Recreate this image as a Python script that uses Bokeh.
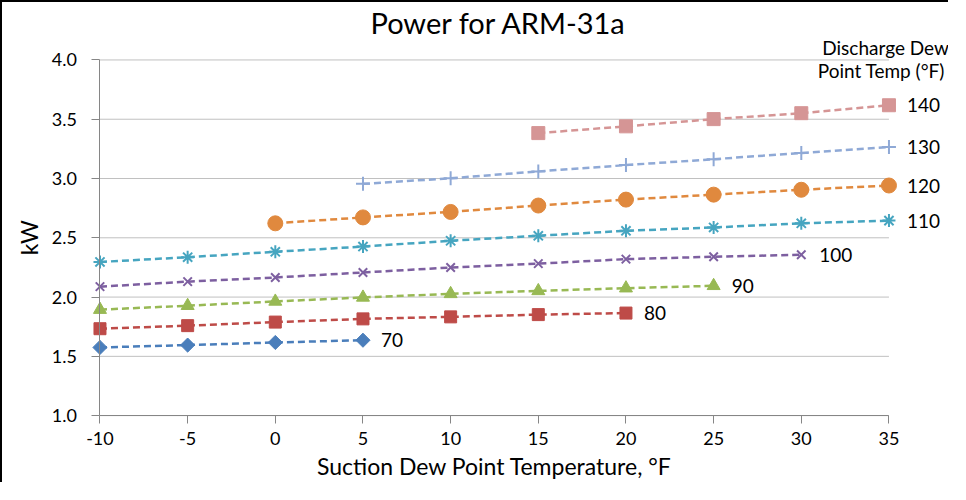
import math
from bokeh.plotting import figure
from bokeh.models import (Label, LabelSet, ColumnDataSource, FixedTicker, Range1d,
                          PrintfTickFormatter)
from bokeh.core.properties import value
from bokeh.embed import file_html
from bokeh.resources import INLINE

# ---- data ----
suction = [-10, -5, 0, 5, 10, 15, 20, 25, 30, 35]
x_ticks = [-10, -5, 0, 5, 10, 15, 20, 25, 30, 35]
y_ticks = [1.0, 1.5, 2.0, 2.5, 3.0, 3.5, 4.0]

names = ["70", "80", "90", "100", "110", "120", "130", "140"]
start_temp = [-10, -10, -10, -10, -10, 0, 5, 15]
kw_70 = [1.575, 1.595, 1.617, 1.636]
kw_80 = [1.733, 1.759, 1.789, 1.816, 1.833, 1.852, 1.865]
kw_90 = [1.894, 1.927, 1.963, 1.997, 2.027, 2.052, 2.075, 2.095]
kw_100 = [2.088, 2.130, 2.165, 2.207, 2.249, 2.282, 2.320, 2.340, 2.357]
kw_110 = [2.296, 2.336, 2.382, 2.426, 2.475, 2.517, 2.559, 2.587, 2.622, 2.645]
kw_120 = [2.622, 2.672, 2.718, 2.772, 2.822, 2.864, 2.905, 2.941]
kw_130 = [2.955, 3.002, 3.060, 3.113, 3.163, 3.215, 3.265]
kw_140 = [3.383, 3.440, 3.501, 3.551, 3.618]
kw_all = [kw_70, kw_80, kw_90, kw_100, kw_110, kw_120, kw_130, kw_140]
legend_title = ["Discharge Dew", "Point Temp (°F)"]
x_title = "Suction Dew Point Temperature, °F"
y_title = "kW"

# ---- style ----
colors = ["#4A7EBB", "#BE4B48", "#98B954", "#7D5FA0", "#46A5C0", "#E0893E", "#8FA9D6", "#D59595"]
markers = ["square", "square", "triangle", "x", "asterisk", "circle", "cross", "square"]
angles = [0.7854, 0, 0, 0, 0, 0, 0, 0]
sizes = [10, 12, 13, 12, 13, 15, 14, 13]
FONT = "Lato"

# the frame covers the whole canvas below the title; axes are pinned at x=-10 / y=1.0
p = figure(width=948, height=482, output_backend="svg", toolbar_location=None,
           x_range=Range1d(-15.56, 38.51), y_range=Range1d(0.419, 4.1725),
           min_border_left=0, min_border_right=0, min_border_top=36, min_border_bottom=0,
           title="Power for ARM-31a")
p.styles = {"border-left": "2px solid black", "border-top": "2px solid black"}
p.background_fill_color = "white"
p.border_fill_color = "white"
p.outline_line_color = None

p.title.align = "left"
p.title.offset = 368
p.title.text_font = FONT
p.title.text_font_size = "29px"
p.title.text_font_style = "normal"
p.title.text_color = "black"
p.title.standoff = 0

# horizontal grid lines limited to the plotted x span
p.xgrid.grid_line_color = None
p.ygrid.grid_line_color = None
n = len(y_ticks)
p.segment(x0=[x_ticks[0]] * n, y0=y_ticks, x1=[x_ticks[-1]] * n, y1=y_ticks,
          line_color="#C0C0C0", line_width=1)

for ax in (p.xaxis[0], p.yaxis[0]):
    ax.axis_line_color = "#868686"
    ax.major_tick_line_color = "#868686"
    ax.minor_tick_line_color = None
    ax.major_tick_in = 0
    ax.major_tick_out = 8
    ax.major_label_text_font = FONT
    ax.major_label_text_font_size = "18px"
    ax.major_label_text_color = "black"

p.xaxis.ticker = FixedTicker(ticks=x_ticks)
p.yaxis.ticker = FixedTicker(ticks=y_ticks)
p.xaxis.formatter = PrintfTickFormatter(format="%d")
p.yaxis.formatter = PrintfTickFormatter(format="%.1f")
p.xaxis.bounds = (x_ticks[0], x_ticks[-1])
p.yaxis.bounds = (y_ticks[0], y_ticks[-1])
p.xaxis.fixed_location = y_ticks[0]
p.yaxis.fixed_location = x_ticks[0]
p.xaxis.major_label_standoff = 8
p.yaxis.major_label_standoff = 15

# axis titles
p.add_layout(Label(x=(x_ticks[0] + x_ticks[-1]) / 2, y=y_ticks[0], y_offset=-50, text=x_title,
                   text_align="center", text_baseline="middle",
                   text_font=FONT, text_font_size="23px", text_color="black"))
p.add_layout(Label(x=x_ticks[0], y=(y_ticks[0] + y_ticks[-1]) / 2, x_offset=-71, text=y_title,
                   angle=math.pi / 2, text_align="center", text_baseline="middle",
                   text_font=FONT, text_font_size="23px", text_color="black"))

last_x, last_y = [], []
for name, st, kw, c, m, a, s in zip(names, start_temp, kw_all, colors, markers, angles, sizes):
    i0 = suction.index(st)
    xs = suction[i0:i0 + len(kw)]
    p.line(xs, kw, line_color=c, line_width=2.5, line_dash="7 4")
    if m in ("x", "asterisk", "cross"):
        p.scatter(xs, kw, marker=m, size=s, line_color=c, line_width=2, fill_color=None)
    else:
        p.scatter(xs, kw, marker=m, size=s, angle=a, line_color=c, fill_color=c, line_width=1)
    last_x.append(xs[-1])
    last_y.append(kw[-1])

lab_src = ColumnDataSource(dict(x=last_x, y=last_y, text=names))
p.add_layout(LabelSet(x="x", y="y", text="text", source=lab_src, x_offset=18, y_offset=0,
                      text_baseline="middle", text_align="left", text_font=value(FONT),
                      text_font_size="19px", text_color="black"))

p.add_layout(Label(x=x_ticks[-1], y=y_ticks[-1], x_offset=60, y_offset=12, text=legend_title[0],
                   text_align="right", text_baseline="middle",
                   text_font=FONT, text_font_size="19px", text_color="black"))
p.add_layout(Label(x=x_ticks[-1], y=y_ticks[-1], x_offset=56, y_offset=-11, text=legend_title[1],
                   text_align="right", text_baseline="middle",
                   text_font=FONT, text_font_size="19px", text_color="black"))

open("out.html", "w").write(file_html(p, INLINE))
